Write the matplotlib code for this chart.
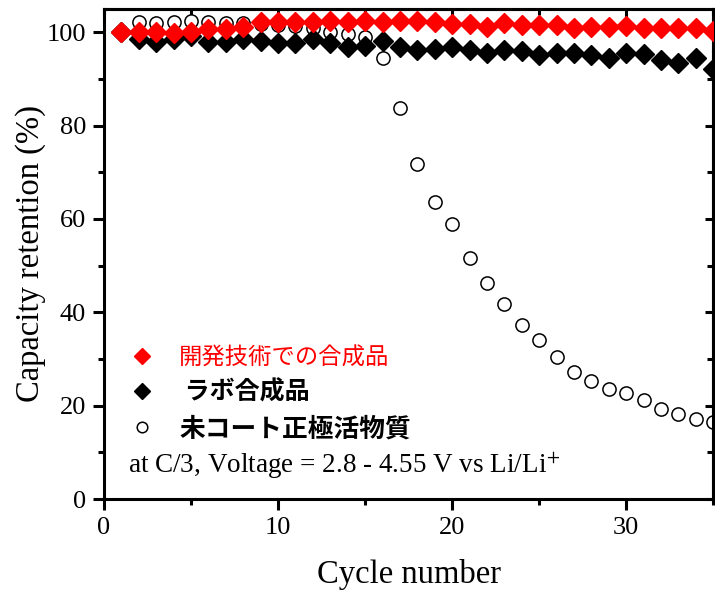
import matplotlib
matplotlib.use("Agg")
import matplotlib.pyplot as plt
from matplotlib.ticker import MultipleLocator

# データ
cycles = list(range(1, 36))
dev_product = [100, 100.1, 100, 99.8, 100.1, 100.6, 100.6, 101.2, 102.1, 102.2,
               102.1, 102.2, 102.4, 102.2, 102.4, 102.1, 102.4, 102.5, 102.2, 101.8,
               101.8, 101.2, 101.9, 101.6, 101.5, 101.5, 100.9, 101.2, 101.2, 101.3,
               100.8, 100.8, 100.8, 100.8, 100.3]
lab_product = [100, 98.6, 97.9, 98.6, 99.1, 97.9, 97.9, 98.5, 98.2, 97.6,
               97.7, 98.5, 97.7, 96.8, 97.1, 98.2, 96.9, 96.2, 96.5, 96.9,
               96.2, 95.6, 96.1, 95.9, 95.2, 95.5, 95.6, 95.2, 94.4, 95.5,
               95.4, 94.0, 93.4, 94.4, 92.2]
uncoated = [100, 102.2, 101.9, 102.1, 102.4, 102.2, 101.9, 101.9, 101.8, 101.5,
            101.4, 100.8, 100.1, 99.6, 99.0, 94.5, 83.8, 71.7, 63.7, 59.0,
            51.6, 46.3, 41.8, 37.2, 34.0, 30.5, 27.3, 25.3, 23.6, 22.8,
            21.2, 19.3, 18.2, 17.2, 16.4]
labels = ["開発技術での合成品", " ラボ合成品", "未コート正極活物質"]

SERIF = "Liberation Serif"
CJK = ["Noto Sans CJK JP", "DejaVu Sans"]
plt.rcParams["mathtext.fontset"] = "stix"

fig = plt.figure(figsize=(7.15, 5.92), dpi=100)
ax = fig.add_axes([0.1455, 0.157, 0.852, 0.828])

# 描画順: 白丸 -> 黒 -> 赤
l3, = ax.plot(cycles, uncoated, "o", ms=9.5, mfc="white", mec="black", mew=1.1,
              ls="none", zorder=2)
l2, = ax.plot(cycles, lab_product, "D", ms=10, color="black", ls="none", zorder=3)
l1, = ax.plot(cycles, dev_product, "D", ms=10, color="red", ls="none", zorder=4)

ax.set_xlim(0, 35)
ax.set_ylim(0, 105)
ax.xaxis.set_major_locator(MultipleLocator(10))
ax.xaxis.set_minor_locator(MultipleLocator(5))
ax.yaxis.set_major_locator(MultipleLocator(20))
ax.yaxis.set_minor_locator(MultipleLocator(10))

for sp in ax.spines.values():
    sp.set_linewidth(2.2)
ax.tick_params(which="major", direction="out", length=8, width=2.2,
               labelsize=19, pad=5)
ax.tick_params(which="minor", direction="out", length=4, width=2.2)
for lab in ax.get_xticklabels() + ax.get_yticklabels():
    lab.set_fontfamily(SERIF)

# 上・右は内向き目盛
top = ax.secondary_xaxis("top")
top.xaxis.set_major_locator(MultipleLocator(10))
top.xaxis.set_minor_locator(MultipleLocator(5))
top.tick_params(which="major", direction="in", length=6, width=2.2, labeltop=False)
top.tick_params(which="minor", direction="in", length=4, width=2.2)
top.spines["top"].set_linewidth(2.2)
right = ax.secondary_yaxis("right")
right.yaxis.set_major_locator(MultipleLocator(20))
right.yaxis.set_minor_locator(MultipleLocator(10))
right.tick_params(which="major", direction="in", length=6, width=2.2, labelright=False)
right.tick_params(which="minor", direction="in", length=4, width=2.2)
right.spines["right"].set_linewidth(2.2)

ax.set_xlabel("Cycle number", fontfamily=SERIF, fontsize=23.5, labelpad=14)
ax.set_ylabel("Capacity retention (%)", fontfamily=SERIF, fontsize=23.5, labelpad=0)

leg = ax.legend([l1, l2, l3], labels, loc="lower left",
                bbox_to_anchor=(0.0, 0.07), frameon=False, markerscale=0.8,
                handlelength=1.2, handletextpad=0.9, labelspacing=0.42,
                prop={"family": CJK, "size": 18})
txts = leg.get_texts()
txts[0].set_color("red")
txts[0].set_fontsize(16.8)
txts[1].set_fontweight("bold")
txts[2].set_fontweight("bold")
txts[2].set_fontsize(18.5)

ax.text(0.039, 0.067, "at C/3, Voltage = 2.8 - 4.55 V vs Li/Li$^{+}$",
        transform=ax.transAxes, fontfamily=SERIF, fontsize=19.5, va="center")

fig.savefig("out.png", dpi=100)
